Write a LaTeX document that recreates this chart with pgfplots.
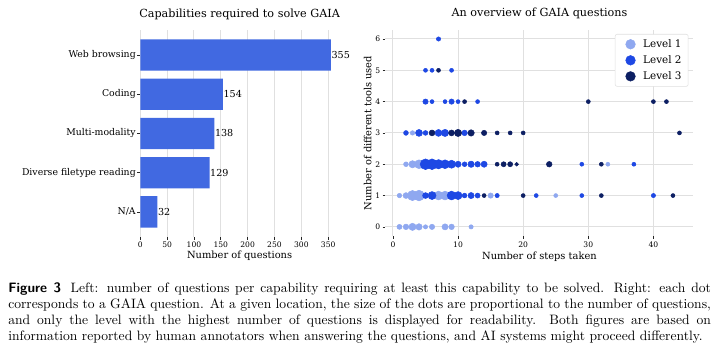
\documentclass[border=0pt]{standalone}
\usepackage{fontspec}
\usepackage{pgfplots}
\pgfplotsset{compat=1.18}
\newfontfamily\dvs{DejaVu Serif}
\definecolor{barblue}{RGB}{65,105,225}
\definecolor{lvA}{RGB}{143,168,240}
\definecolor{lvB}{RGB}{30,72,228}
\definecolor{lvC}{RGB}{13,31,99}
\definecolor{gridc}{RGB}{224,224,224}
\begin{document}
\begin{tikzpicture}
\path[use as bounding box] (0,0) rectangle (539.25pt,-267pt);
% ---------- left: bar chart ----------
\begin{axis}[
  at={(105.2pt,-22.4pt)}, anchor=north west,
  scale only axis, width=149pt, height=155.4pt,
  xbar, bar width=23.55pt,
  xmin=0, xmax=370, ymin=-0.64, ymax=4.64, y dir=reverse,
  ytick={0,1,2,3,4},
  yticklabels={Web browsing,Coding,Multi-modality,Diverse filetype reading,N/A},
  xtick={0,50,100,150,200,250,300,350},
  xmajorgrids, ymajorgrids=false,
  grid style={gridc, line width=0.7pt},
  axis x line*=bottom, axis y line*=left,
  axis line style={draw=none},
  tick style={black!85, line width=0.55pt},
  major tick length=2.2pt, tick align=outside,
  /pgf/number format/assume math mode=true,
  ticklabel style={font=\dvs\fontsize{5.7}{6}\selectfont},
  yticklabel style={font=\dvs\fontsize{7}{8}\selectfont, inner sep=1pt},
  xticklabel style={inner sep=1.2pt},
  title={Capabilities required to solve GAIA},
  title style={at={(axis description cs:0.5,1.020)}, anchor=base, font=\dvs\fontsize{8.4}{10}\selectfont},
  xlabel={Number of questions},
  xlabel style={at={(axis description cs:0.5,-0.104)}, anchor=base, font=\dvs\fontsize{7.4}{9}\selectfont},
  nodes near coords,
  nodes near coords align=horizontal,
  every node near coord/.append style={anchor=west, inner sep=0.3pt, black, font=\dvs\fontsize{7.2}{8}\selectfont},
]
\addplot[fill=barblue, draw=none] coordinates {(355,0) (154,1) (138,2) (129,3) (32,4)};
\end{axis}
% ---------- right: scatter ----------
\begin{axis}[
  at={(289.1pt,-22.2pt)}, anchor=north west,
  scale only axis, width=231pt, height=155pt,
  xmin=-1.15, xmax=46.15, ymin=-0.3, ymax=6.3,
  xtick={0,10,20,30,40}, ytick={0,1,2,3,4,5,6},
  grid=major, grid style={gridc, line width=0.75pt},
  axis x line*=bottom, axis y line*=left,
  axis line style={draw=none},
  tick style={black!85, line width=0.55pt},
  major tick length=2.2pt, tick align=outside,
  /pgf/number format/assume math mode=true,
  ticklabel style={font=\dvs\fontsize{5.7}{6}\selectfont, inner sep=1.5pt},
  title={An overview of GAIA questions},
  title style={at={(axis description cs:0.5,1.023)}, anchor=base, font=\dvs\fontsize{8.4}{10}\selectfont},
  xlabel={Number of steps taken},
  xlabel style={at={(axis description cs:0.5,-0.1135)}, anchor=base, font=\dvs\fontsize{7.4}{9}\selectfont},
  ylabel={Number of different tools used},
  ylabel style={at={(axis description cs:-0.046,0.5)}, anchor=base, font=\dvs\fontsize{7.4}{9}\selectfont},
  legend style={at={(1,1)}, anchor=north east, xshift=-3.75pt, yshift=-3.3pt,
    draw=gray!25, fill=white, rounded corners=1.5pt,
    font=\dvs\fontsize{7.8}{9}\selectfont, row sep=0.6pt, inner xsep=3pt, inner ysep=1.8pt},
  legend cell align=left,
  legend image code/.code={%
    \path[draw=none, fill=none] (0pt,-3.6pt) rectangle (16pt,3.6pt);
    \draw[#1, mark size=3.6pt] plot coordinates {(8.5pt,0pt)};},
]
% Level 1
\addplot[scatter, only marks, mark=*, forget plot,
  scatter/use mapped color={draw=lvA, fill=lvA},
  visualization depends on={\thisrow{r} \as \rad},
  scatter/@pre marker code/.append style={/tikz/mark size=\rad}]
  table[x=x, y=y] {
x y r
1 0 1.9
2 0 2.1
3 0 2.7
4 0 2.4
5 0 1.6
6 0 2.0
8 0 2.3
9 0 2.1
12 0 1.6
1 1 1.7
2 1 2.2
3 1 3.8
4 1 4.0
7 1 3.3
8 1 3.3
15 1 2.0
25 1 1.5
2 2 1.8
3 2 2.7
4 2 3.3
33 2 1.5
3 3 1.7
};
% Level 2
\addplot[scatter, only marks, mark=*, forget plot,
  scatter/use mapped color={draw=lvB, fill=lvB},
  visualization depends on={\thisrow{r} \as \rad},
  scatter/@pre marker code/.append style={/tikz/mark size=\rad}]
  table[x=x, y=y] {
x y r
5 1 2.2
6 1 3.0
9 1 3.3
10 1 3.0
11 1 1.8
12 1 2.3
13 1 1.9
16 1 1.6
22 1 1.5
29 1 1.5
40 1 1.6
5 2 4.0
6 2 4.0
7 2 3.5
8 2 3.3
9 2 3.0
10 2 2.3
11 2 1.8
12 2 2.4
13 2 2.1
14 2 2.3
29 2 1.5
37 2 1.5
2 3 1.8
4 3 2.6
5 3 1.8
7 3 2.6
8 3 2.7
11 3 2.1
5 4 2.0
6 4 1.5
8 4 1.5
9 4 2.0
10 4 1.5
13 4 1.5
5 5 1.5
6 5 1.5
9 5 1.5
7 6 1.6
};
% Level 3
\addplot[scatter, only marks, mark=*, forget plot,
  scatter/use mapped color={draw=lvC, fill=lvC},
  visualization depends on={\thisrow{r} \as \rad},
  scatter/@pre marker code/.append style={/tikz/mark size=\rad}]
  table[x=x, y=y] {
x y r
14 1 1.5
20 1 1.5
32 1 1.5
43 1 1.5
16 2 1.5
17 2 1.9
18 2 1.9
19 2 1.4
24 2 2.1
32 2 1.5
6 3 2.2
9 3 2.2
10 3 2.7
12 3 2.4
14 3 2.0
16 3 1.5
18 3 1.5
20 3 1.5
44 3 1.5
11 4 1.5
30 4 1.5
40 4 1.5
42 4 1.5
7 5 1.5
};
\addlegendimage{only marks, mark=*, color=lvA}
\addlegendentry{Level 1}
\addlegendimage{only marks, mark=*, color=lvB}
\addlegendentry{Level 2}
\addlegendimage{only marks, mark=*, color=lvC}
\addlegendentry{Level 3}
\end{axis}
% ---------- caption ----------
\node[anchor=base west, inner sep=0] at (6pt,-219.75pt) {\parbox[t]{527pt}{\fontsize{10.2}{12}\selectfont
{\sffamily\bfseries Figure 3}\hspace{0.7em}Left: number of questions per capability requiring at least this capability to be solved. Right: each dot\linebreak
corresponds to a GAIA question. At a given location, the size of the dots are proportional to the number of questions,\linebreak
and only the level with the highest number of questions is displayed for readability. Both figures are based on\linebreak
information reported by human annotators when answering the questions, and AI systems might proceed differently.}};
\end{tikzpicture}
\end{document}
